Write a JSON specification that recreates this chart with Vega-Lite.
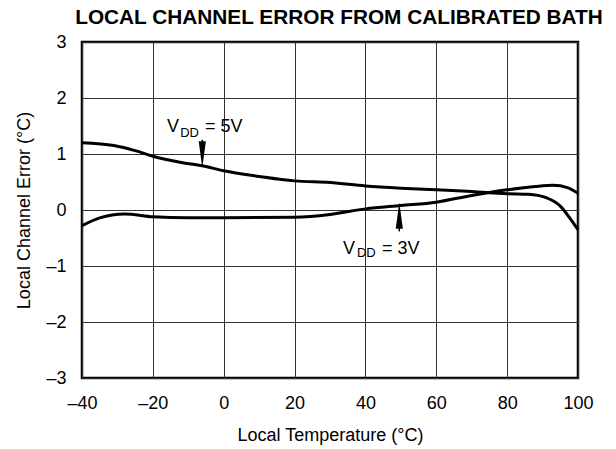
{
  "$schema": "https://vega.github.io/schema/vega-lite/v6.json",
  "autosize": {"type": "none"},
  "padding": {"left": 82, "top": 42, "right": 38, "bottom": 71},
  "width": 496,
  "height": 336,
  "background": "white",
  "title": {
    "text": "LOCAL CHANNEL ERROR FROM CALIBRATED BATH",
    "font": "Liberation Sans",
    "fontSize": 20.8,
    "fontWeight": "bold",
    "color": "black",
    "anchor": "middle",
    "offset": 4,
    "dx": 9
  },
  "config": {
    "view": {"stroke": "black", "strokeWidth": 2.5},
    "font": "Liberation Sans",
    "axis": {
      "domain": false,
      "ticks": false,
      "grid": true,
      "gridColor": "#333",
      "gridWidth": 1,
      "gridOpacity": 1,
      "labelFont": "Liberation Sans",
      "labelFontSize": 18,
      "labelColor": "black",
      "labelFlush": false,
      "labelOverlap": false,
      "titleFont": "Liberation Sans",
      "titleFontSize": 18,
      "titleFontWeight": "normal",
      "titleColor": "black",
      "labelPadding": 16,
      "format": "d",
      "labelExpr": "datum.value < 0 ? '–' + abs(datum.value) : datum.label"
    }
  },
  "datasets": {
    "curves": [
      {"temp": -40, "err": 1.2, "series": "VDD = 5V"},
      {"temp": -31, "err": 1.15, "series": "VDD = 5V"},
      {"temp": -25, "err": 1.06, "series": "VDD = 5V"},
      {"temp": -20, "err": 0.96, "series": "VDD = 5V"},
      {"temp": -12, "err": 0.85, "series": "VDD = 5V"},
      {"temp": -6, "err": 0.79, "series": "VDD = 5V"},
      {"temp": 0, "err": 0.7, "series": "VDD = 5V"},
      {"temp": 10, "err": 0.6, "series": "VDD = 5V"},
      {"temp": 20, "err": 0.52, "series": "VDD = 5V"},
      {"temp": 30, "err": 0.49, "series": "VDD = 5V"},
      {"temp": 40, "err": 0.43, "series": "VDD = 5V"},
      {"temp": 50, "err": 0.39, "series": "VDD = 5V"},
      {"temp": 60, "err": 0.36, "series": "VDD = 5V"},
      {"temp": 70, "err": 0.33, "series": "VDD = 5V"},
      {"temp": 80, "err": 0.29, "series": "VDD = 5V"},
      {"temp": 86, "err": 0.28, "series": "VDD = 5V"},
      {"temp": 91, "err": 0.22, "series": "VDD = 5V"},
      {"temp": 95, "err": 0.07, "series": "VDD = 5V"},
      {"temp": 98, "err": -0.17, "series": "VDD = 5V"},
      {"temp": 100, "err": -0.35, "series": "VDD = 5V"},
      {"temp": -40, "err": -0.28, "series": "VDD = 3V"},
      {"temp": -35, "err": -0.14, "series": "VDD = 3V"},
      {"temp": -28, "err": -0.07, "series": "VDD = 3V"},
      {"temp": -20, "err": -0.12, "series": "VDD = 3V"},
      {"temp": -10, "err": -0.14, "series": "VDD = 3V"},
      {"temp": 0, "err": -0.14, "series": "VDD = 3V"},
      {"temp": 20, "err": -0.13, "series": "VDD = 3V"},
      {"temp": 30, "err": -0.08, "series": "VDD = 3V"},
      {"temp": 40, "err": 0.02, "series": "VDD = 3V"},
      {"temp": 50, "err": 0.08, "series": "VDD = 3V"},
      {"temp": 60, "err": 0.14, "series": "VDD = 3V"},
      {"temp": 70, "err": 0.26, "series": "VDD = 3V"},
      {"temp": 80, "err": 0.36, "series": "VDD = 3V"},
      {"temp": 88, "err": 0.42, "series": "VDD = 3V"},
      {"temp": 93, "err": 0.44, "series": "VDD = 3V"},
      {"temp": 97, "err": 0.4, "series": "VDD = 3V"},
      {"temp": 100, "err": 0.3, "series": "VDD = 3V"}
    ],
    "mainText": [
      {"temp": -16.0, "err": 1.386, "label": "V"},
      {"temp": -5.3, "err": 1.386, "label": "= 5V"},
      {"temp": 33.7, "err": -0.78, "label": "V"},
      {"temp": 44.7, "err": -0.78, "label": "= 3V"}
    ],
    "subText": [
      {"temp": -12.3, "err": 1.309, "label": "DD"},
      {"temp": 37.6, "err": -0.846, "label": "DD"}
    ],
    "shafts": [
      {"temp": -6.05, "err": 1.255, "err2": 1.0},
      {"temp": 49.56, "err": -0.382, "err2": -0.12}
    ],
    "heads": [
      {"temp": -6.05, "err": 0.99, "dir": "down"},
      {"temp": 49.56, "err": -0.1, "dir": "up"}
    ]
  },
  "layer": [
    {
      "data": {"name": "curves"},
      "mark": {"type": "line", "interpolate": "monotone", "color": "black", "strokeWidth": 3},
      "encoding": {
        "x": {
          "field": "temp", "type": "quantitative",
          "scale": {"domain": [-40, 100], "nice": false},
          "axis": {"values": [-40, -20, 0, 20, 40, 60, 80, 100], "title": "Local Temperature (°C)", "titlePadding": 14}
        },
        "y": {
          "field": "err", "type": "quantitative",
          "scale": {"domain": [-3, 3], "nice": false},
          "axis": {"values": [-3, -2, -1, 0, 1, 2, 3], "title": "Local Channel Error (°C)", "titlePadding": 12}
        },
        "detail": {"field": "series"}
      }
    },
    {
      "data": {"name": "mainText"},
      "mark": {"type": "text", "align": "left", "baseline": "alphabetic", "fontSize": 18, "color": "black", "font": "Liberation Sans"},
      "encoding": {
        "x": {"field": "temp", "type": "quantitative"},
        "y": {"field": "err", "type": "quantitative"},
        "text": {"field": "label"}
      }
    },
    {
      "data": {"name": "subText"},
      "mark": {"type": "text", "align": "left", "baseline": "alphabetic", "fontSize": 13, "color": "black", "font": "Liberation Sans"},
      "encoding": {
        "x": {"field": "temp", "type": "quantitative"},
        "y": {"field": "err", "type": "quantitative"},
        "text": {"field": "label"}
      }
    },
    {
      "data": {"name": "shafts"},
      "mark": {"type": "rule", "color": "black", "strokeWidth": 1.5},
      "encoding": {
        "x": {"field": "temp", "type": "quantitative"},
        "y": {"field": "err", "type": "quantitative"},
        "y2": {"field": "err2"}
      }
    },
    {
      "data": {"name": "heads"},
      "mark": {"type": "point", "filled": true, "color": "black", "opacity": 1, "size": 700},
      "encoding": {
        "x": {"field": "temp", "type": "quantitative"},
        "y": {"field": "err", "type": "quantitative"},
        "shape": {
          "field": "dir", "type": "nominal",
          "scale": {"domain": ["down", "up"], "range": ["M-0.27,-1L0.27,-1L0,1Z", "M-0.27,1L0.27,1L0,-1Z"]},
          "legend": null
        }
      }
    }
  ]
}
